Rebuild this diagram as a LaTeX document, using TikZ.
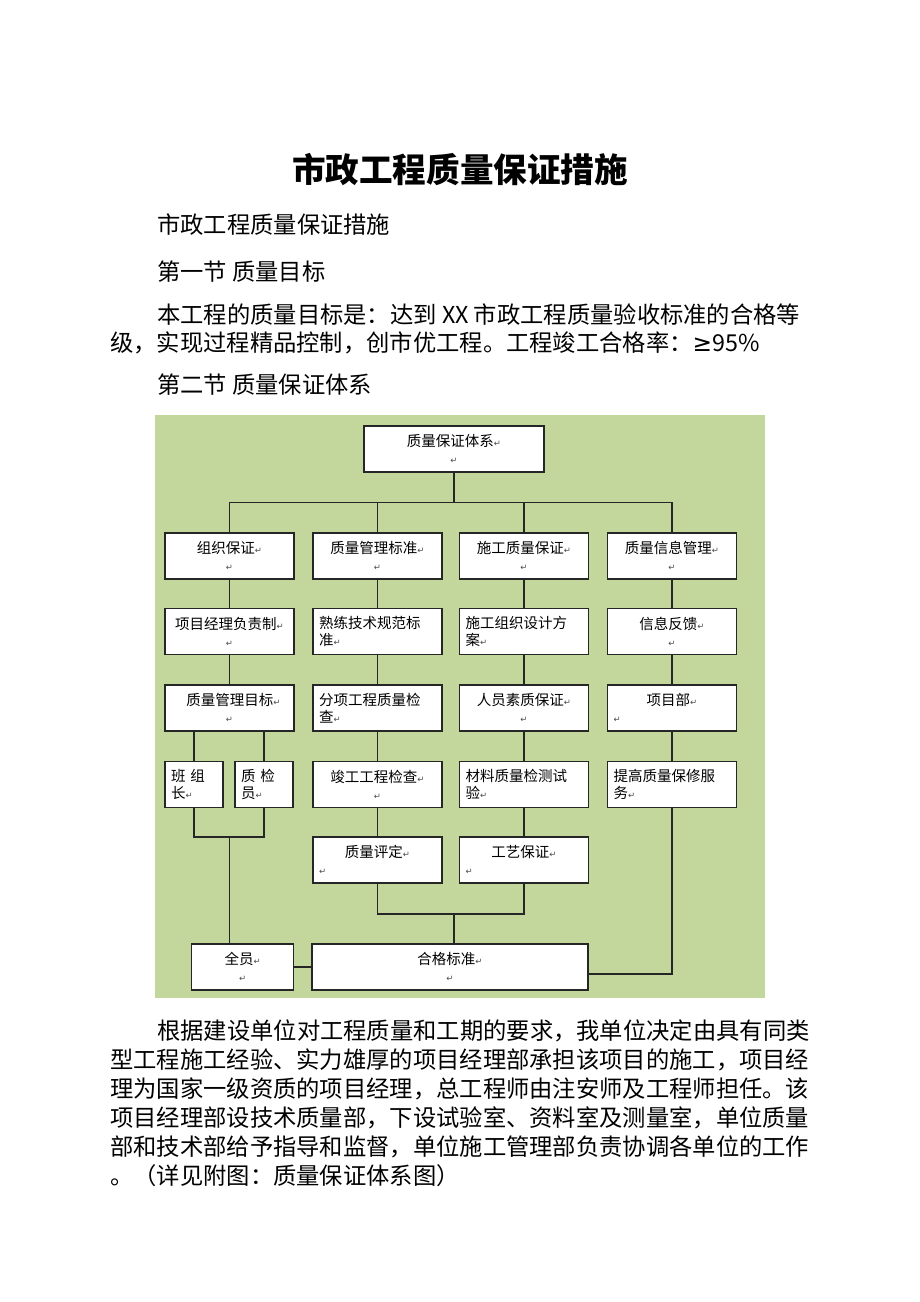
\documentclass[tikz,border=0pt]{standalone}
\usepackage{fontspec}
\setmainfont{Noto Sans CJK SC}
\newfontfamily\arrowfont{DejaVu Sans}
\definecolor{chartbg}{RGB}{195,214,155}
\newcommand{\retmark}{{\arrowfont\fontsize{8.5}{8.5}\selectfont\textcolor{black!70}{↵}}}
\newcommand{\lretmark}{\makebox[\linewidth][l]{\retmark}}

\tikzset{
  orgbox/.style={draw=black!85, line width=1.2pt, fill=white, minimum width=129pt,
    minimum height=46pt, text width=117pt, align=center, inner sep=0pt,
    font=\fontsize{14.5}{17}\selectfont},
  orgboxl/.style={orgbox, align=left},
  link/.style={line width=1.2pt, black!85},
  bodyline/.style={anchor=west, inner sep=0pt, font=\fontsize{23.3}{28}\selectfont}
}

\begin{document}
\begin{tikzpicture}[x=1pt,y=-1pt]
  \fill[white] (0,0) rectangle (920,1302);
  \useasboundingbox (0,0) rectangle (920,1302);

  \node[font=\bfseries\fontsize{33.6}{40}\selectfont] (T) at (460,170) {市政工程质量保证措施};
  \node[bodyline] (L1) at (157,225) {市政工程质量保证措施};
  \node[bodyline] (L2) at (157,272) {第一节 质量目标};
  \node[bodyline] (L3) at (157,315) {本工程的质量目标是：达到 XX 市政工程质量验收标准的合格等};
  \node[bodyline] (L4) at (110,343) {级，实现过程精品控制，创市优工程。工程竣工合格率：{\arrowfont ≥}95\%};
  \node[bodyline] (L5) at (157,385) {第二节 质量保证体系};

  \fill[chartbg] (155,415) rectangle (765,998);

  \node[orgbox, minimum width=180pt, text width=168pt] (R) at (454,449) {质量保证体系\retmark\\\retmark};

  \node[orgbox] (A1) at (229.5,556) {组织保证\retmark\\\retmark};
  \node[orgbox] (B1) at (377.5,556) {质量管理标准\retmark\\\retmark};
  \node[orgbox] (C1) at (524,556) {施工质量保证\retmark\\\retmark};
  \node[orgbox] (D1) at (672,556) {质量信息管理\retmark\\\retmark};

  \node[orgbox] (A2) at (229.5,631.5) {项目经理负责制\retmark\\\retmark};
  \node[orgboxl] (B2) at (377.5,631.5) {熟练技术规范标\\准\retmark};
  \node[orgboxl] (C2) at (524,631.5) {施工组织设计方\\案\retmark};
  \node[orgbox] (D2) at (672,631.5) {信息反馈\retmark\\\retmark};

  \node[orgbox] (A3) at (229.5,708) {\hspace*{8pt}质量管理目标\retmark\\\retmark};
  \node[orgboxl] (B3) at (377.5,708) {分项工程质量检\\查\retmark};
  \node[orgbox] (C3) at (524,708) {人员素质保证\retmark\\\retmark};
  \node[orgbox] (D3) at (672,708) {项目部\retmark\\\lretmark};

  \node[orgboxl, minimum width=58pt, text width=46pt] (BZ) at (194,784.5) {班 组\\长\retmark};
  \node[orgboxl, minimum width=58pt, text width=46pt] (ZJ) at (264,784.5) {质 检\\员\retmark};
  \node[orgbox] (B4) at (377.5,784.5) {竣工工程检查\retmark\\\retmark};
  \node[orgboxl] (C4) at (524,784.5) {材料质量检测试\\验\retmark};
  \node[orgboxl] (D4) at (672,784.5) {提高质量保修服\\务\retmark};

  \node[orgbox] (B5) at (377.5,860) {质量评定\retmark\\\lretmark};
  \node[orgbox] (C5) at (524,860) {工艺保证\retmark\\\lretmark};

  \node[orgbox, minimum width=102pt, text width=90pt] (QY) at (242.6,967) {全员\retmark\\\retmark};
  \node[orgbox, minimum width=276pt, text width=264pt] (HG) at (450,967) {合格标准\retmark\\\retmark};

  \draw[link] (R.south) -- ++(0,30) -| (A1.north);
  \draw[link] (R.south) -- ++(0,30) -| (B1.north);
  \draw[link] (R.south) -- ++(0,30) -| (C1.north);
  \draw[link] (R.south) -- ++(0,30) -| (D1.north);

  \draw[link] (A1) -- (A2);
  \draw[link] (A2) -- (A3);
  \draw[link] (B1) -- (B2);
  \draw[link] (B2) -- (B3);
  \draw[link] (B3) -- (B4);
  \draw[link] (B4) -- (B5);
  \draw[link] (C1) -- (C2);
  \draw[link] (C2) -- (C3);
  \draw[link] (C3) -- (C4);
  \draw[link] (C4) -- (C5);
  \draw[link] (D1) -- (D2);
  \draw[link] (D2) -- (D3);
  \draw[link] (D3) -- (D4);

  \draw[link] (BZ.north) -- (BZ.north |- A3.south);
  \draw[link] (ZJ.north) -- (ZJ.north |- A3.south);
  \coordinate (J1) at (229.5,837);
  \draw[link] (BZ.south) |- (J1) -| (ZJ.south);
  \draw[link] (J1) -- (J1 |- QY.north);

  \coordinate (J2) at (454,914);
  \draw[link] (B5.south) |- (J2) -| (C5.south);
  \draw[link] (J2) -- (J2 |- HG.north);

  \draw[link] (QY.east) -- (HG.west);
  \draw[link] (D4.south) |- ([yshift=-7pt]HG.east);

  \node[bodyline] (P1) at (157,1031) {根据建设单位对工程质量和工期的要求，我单位决定由具有同类};
  \node[bodyline] (P2) at (110,1060) {型工程施工经验、实力雄厚的项目经理部承担该项目的施工，项目经};
  \node[bodyline] (P3) at (110,1089) {理为国家一级资质的项目经理，总工程师由注安师及工程师担任。该};
  \node[bodyline] (P4) at (110,1118) {项目经理部设技术质量部，下设试验室、资料室及测量室，单位质量};
  \node[bodyline] (P5) at (110,1147) {部和技术部给予指导和监督，单位施工管理部负责协调各单位的工作};
  \node[bodyline] (P6) at (110,1176) {。（详见附图：质量保证体系图）};
\end{tikzpicture}
\end{document}
